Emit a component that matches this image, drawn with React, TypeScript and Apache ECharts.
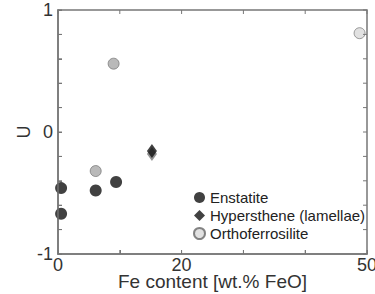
import React, { useEffect, useRef } from "react";
import * as echarts from "echarts";

const xTickLabels = [0, 20, 50];
const yTickLabels = [-1, 0, 1];
const xAxisTitle = "Fe content [wt.% FeO]";
const yAxisTitle = "U";
const enstatiteX = [0.5, 0.5, 6.1, 9.4];
const enstatiteU = [-0.46, -0.67, -0.48, -0.41];
const hypersX = [15.2, 15.2];
const hypersU = [-0.18, -0.155];
const orthoX = [6.1, 9.0, 48.8];
const orthoU = [-0.32, 0.56, 0.81];
const orthoColors = ["#a8a8a8", "#a8a8a8", "#dadada"];
const hypersColors = ["#777777", "#111111"];

const FONT = "'Liberation Sans', Arial, sans-serif";
const X_MIN = 0, X_MAX = 50, X_STEP = 10;
const Y_MIN = -1, Y_MAX = 1, Y_STEP = 0.2;

export default function App() {
  const ref = useRef<HTMLDivElement>(null);
  useEffect(() => {
    if (!ref.current) return;
    const chart = echarts.init(ref.current, null, { renderer: "svg" });
    const axisLine = () => ({ show: true, onZero: false, lineStyle: { color: "#777", width: 1.5 } });
    const tick = () => ({ show: true, inside: true, length: 4, lineStyle: { color: "#777", width: 1 } });
    chart.setOption({
      animation: false,
      grid: { left: 58, right: 8, top: 10, bottom: 40, outerBoundsMode: "none" },
      legend: {
        orient: "vertical",
        left: 188,
        top: 185,
        itemWidth: 11,
        itemHeight: 11,
        itemGap: 3,
        textStyle: { fontFamily: FONT, fontSize: 15, color: "#222" },
        data: ["Enstatite", "Hypersthene (lamellae)", "Orthoferrosilite"],
      },
      xAxis: [
        {
          type: "value",
          min: X_MIN,
          max: X_MAX,
          interval: X_STEP,
          axisLine: axisLine(),
          axisTick: tick(),
          splitLine: { show: false },
          axisLabel: { fontFamily: FONT, fontSize: 18, color: "#333", margin: 2, customValues: xTickLabels },
        },
      ],
      yAxis: [
        {
          type: "value",
          min: Y_MIN,
          max: Y_MAX,
          interval: Y_STEP,
          axisLine: axisLine(),
          axisTick: tick(),
          splitLine: { show: false },
          axisLabel: { fontFamily: FONT, fontSize: 18, color: "#333", margin: 5, customValues: yTickLabels },
        },
      ],
      series: [
        {
          name: "Enstatite",
          type: "scatter",
          symbol: "circle",
          symbolSize: 12,
          itemStyle: { color: "#111111" },
          data: enstatiteX.map((x, i) => [x, enstatiteU[i]]),
        },
        {
          name: "Hypersthene (lamellae)",
          type: "scatter",
          symbol: "diamond",
          symbolSize: [10, 14],
          itemStyle: { color: "#111111" },
          data: hypersX.map((x, i) => ({ value: [x, hypersU[i]], itemStyle: { color: hypersColors[i] } })),
        },
        {
          name: "Orthoferrosilite",
          type: "scatter",
          symbol: "circle",
          symbolSize: 11,
          itemStyle: { color: "#dadada", borderColor: "#666", borderWidth: 0.8 },
          data: orthoX.map((x, i) => ({ value: [x, orthoU[i]], itemStyle: { color: orthoColors[i] } })),
        },
      ],
    });

    const px = (v: number) => chart.convertToPixel({ xAxisIndex: 0 }, v) as number;
    const py = (v: number) => chart.convertToPixel({ yAxisIndex: 0 }, v) as number;
    const l = px(X_MIN), r = px(X_MAX), t = py(Y_MAX), b = py(Y_MIN);
    const lineStyle = { stroke: "#777", lineWidth: 1 };
    const elems: any[] = [
      {
        type: "rect",
        silent: true,
        z: 50,
        shape: { x: l, y: t, width: r - l, height: b - t },
        style: { fill: "none", stroke: "#777", lineWidth: 1.5 },
      },
    ];
    for (let v = X_MIN; v <= X_MAX + 1e-9; v += X_STEP) {
      const x = px(v);
      elems.push({ type: "line", silent: true, z: 50, shape: { x1: x, y1: t, x2: x, y2: t + 4 }, style: lineStyle });
      elems.push({ type: "line", silent: true, z: 50, shape: { x1: x, y1: b, x2: x, y2: b - 4 }, style: lineStyle });
    }
    for (let k = 0; k <= Math.round((Y_MAX - Y_MIN) / Y_STEP); k++) {
      const y = py(Y_MIN + k * Y_STEP);
      elems.push({ type: "line", silent: true, z: 50, shape: { x1: l, y1: y, x2: l + 4, y2: y }, style: lineStyle });
      elems.push({ type: "line", silent: true, z: 50, shape: { x1: r, y1: y, x2: r - 4, y2: y }, style: lineStyle });
    }
    elems.push({
      type: "text",
      x: (l + r) / 2,
      y: b + 18,
      style: { text: xAxisTitle, fontFamily: FONT, fontSize: 19, fill: "#333", align: "center", verticalAlign: "top" },
    });
    elems.push({
      type: "text",
      x: 24,
      y: (t + b) / 2,
      rotation: Math.PI / 2,
      style: { text: yAxisTitle, fontFamily: FONT, fontSize: 18, fill: "#333", align: "center", verticalAlign: "middle" },
    });
    chart.setOption({ graphic: elems });
    return () => chart.dispose();
  }, []);
  return <div ref={ref} style={{ width: 375, height: 294, position: "absolute", left: 0, top: 0 }} />;
}
